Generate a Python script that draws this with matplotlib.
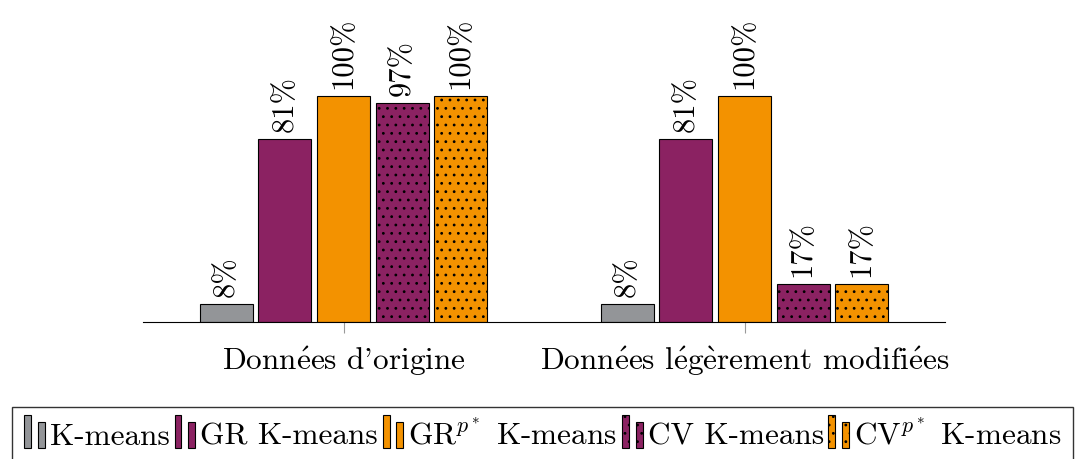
import matplotlib
matplotlib.use("Agg")
import matplotlib.pyplot as plt
from matplotlib.patches import Rectangle
from matplotlib.legend_handler import HandlerBase
import numpy as np

plt.rcParams['font.family'] = ['cmr10', 'DejaVu Serif']
plt.rcParams['mathtext.fontset'] = 'cm'
plt.rcParams['axes.formatter.use_mathtext'] = True
plt.rcParams['hatch.linewidth'] = 0.8

groups = ["Données d'origine", "Données légèrement modifiées"]
methods = ["K-means", "GR K-means", r"GR$^{p^*}$ K-means",
           "CV K-means", r"CV$^{p^*}$ K-means"]
scores = {
    "K-means":            [8, 8],
    "GR K-means":         [81, 81],
    r"GR$^{p^*}$ K-means": [100, 100],
    "CV K-means":         [97, 17],
    r"CV$^{p^*}$ K-means": [100, 17],
}
colors = ["#939598", "#8b2262", "#f39200", "#8b2262", "#f39200"]
hatches = [None, None, None, "..", ".."]


def accents(s):
    # cmr10 has no accented glyphs, build them with mathtext
    s = s.replace("é", r"$\acute{\mathrm{e}}$")
    return s.replace("è", r"$\grave{\mathrm{e}}$")


class TwoBars(HandlerBase):
    # legend key made of two small bars
    def create_artists(self, legend, orig, xd, yd, width, height, fontsize, trans):
        fc = orig.get_facecolor()
        h = orig.get_hatch()
        a = Rectangle((xd + 1, yd - 3), 5, height + 8, facecolor=fc,
                      edgecolor="black", lw=0.8, hatch=h, transform=trans)
        b = Rectangle((xd + 11, yd - 3), 5, height + 3, facecolor=fc,
                      edgecolor="black", lw=0.8, hatch=h, transform=trans)
        return [a, b]


fig = plt.figure(figsize=(10.75, 4.6), dpi=100)
ax = fig.add_axes([143 / 1075, 137 / 460, 802 / 1075, 313 / 460])

x = np.arange(len(groups))
step = 0.146
width = 0.132
handles = []
for i, m in enumerate(methods):
    pos = x + (i - 2) * step
    bars = ax.bar(pos, scores[m], width, color=colors[i], edgecolor="black",
                  linewidth=0.8, hatch=hatches[i], label=m)
    handles.append(bars[0])
    for p, v in zip(pos, scores[m]):
        ax.text(p, v + 3.5, f"{v}%", rotation=90, ha="center", va="bottom",
                fontsize=22)

ax.set_xlim(-0.5, 1.5)
ax.set_ylim(0, 313 / 2.26)
ax.set_yticks([])
ax.set_xticks(x)
ax.set_xticklabels([accents(g) for g in groups], fontsize=22.5)
for s in ["top", "left", "right"]:
    ax.spines[s].set_visible(False)
ax.spines["bottom"].set_linewidth(0.8)
ax.tick_params(axis="x", direction="out", length=8, color="#999999", pad=7)

fig.legend(handles, methods, handler_map={h: TwoBars() for h in handles},
           loc="upper left", bbox_to_anchor=(12 / 1075, 1 - 408 / 460), ncol=5,
           fontsize=22.5, frameon=True, fancybox=False, edgecolor="black",
           handlelength=0.75, handletextpad=0.12, columnspacing=0.1,
           borderpad=0.35, borderaxespad=0)

fig.savefig("out.png", dpi=100)
